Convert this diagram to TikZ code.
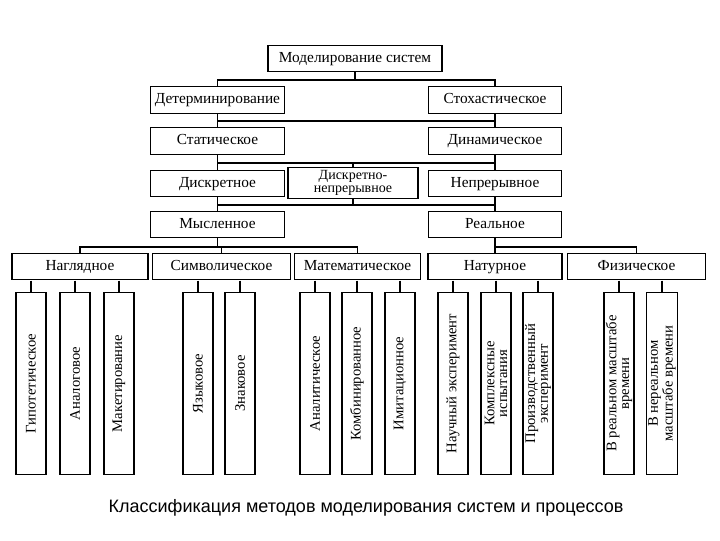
\documentclass[tikz,border=0pt]{standalone}
\usepackage{fontspec}
\setmainfont{Liberation Serif}
\newfontfamily\capfont{Liberation Sans}
\begin{document}
\begin{tikzpicture}[x=0.75pt,y=-0.75pt,
  box/.style={draw,line width=0.9pt,inner sep=1pt,font=\fontsize{11.5}{11}\selectfont,minimum height=20pt,text height=8pt,text depth=2.5pt},
  leaf/.style={draw,line width=0.9pt,rotate=90,minimum width=137pt,minimum height=22.5pt,inner sep=1pt,align=center,font=\fontsize{11}{9.5}\selectfont},
  ln/.style={line width=1pt}]
\useasboundingbox[fill=white] (0,0) rectangle (720,540);
\node[box,minimum width=130.5pt] (top) at (355,58.5) {Моделирование систем};
\node[box,minimum width=100pt] (det) at (217.5,100) {Детерминирование};
\node[box,minimum width=100pt] (sto) at (495,100) {Стохастическое};
\node[box,minimum width=100pt] (sta) at (217.5,141) {Статическое};
\node[box,minimum width=100pt] (dyn) at (495,141) {Динамическое};
\node[box,minimum width=100pt] (dis) at (217.5,183.5) {Дискретное};
\node[draw,line width=0.9pt,inner sep=0.5pt,minimum width=97.5pt,minimum height=23pt,align=center,font=\fontsize{10.5}{9.5}\selectfont] (dn) at (353,183) {Дискретно-\\непрерывное};
\node[box,minimum width=100pt] (nep) at (495,183.5) {Непрерывное};
\node[box,minimum width=100pt] (mys) at (217.5,224.5) {Мысленное};
\node[box,minimum width=100pt] (rea) at (495,224.5) {Реальное};
\node[box,minimum width=102pt] (nag) at (80,266.5) {Наглядное};
\node[box,minimum width=103pt] (sym) at (221.5,266.5) {Символическое};
\node[box,minimum width=94pt] (mat) at (357.5,266.5) {Математическое};
\node[box,minimum width=100.5pt] (nat) at (495,266.5) {Натурное};
\node[box,minimum width=103pt] (fiz) at (636.5,266.5) {Физическое};
% buses
\draw[ln] (top.south) -- (355,80);
\draw[ln] (det.north) -- (217.5,80) -- (495,80) -- (sto.north);
\draw[ln] (det.south) -- (217.5,121) -- (495,121) -- (dyn.north);
\draw[ln] (sta.north) -- (217.5,121);
\draw[ln] (sto.south) -- (495,121);
\draw[ln] (sta.south) -- (217.5,163) -- (495,163) -- (nep.north);
\draw[ln] (dyn.south) -- (495,163);
\draw[ln] (dis.north) -- (217.5,163);
\draw[ln] (dn.north) -- (353,163);
\draw[ln] (dis.south) -- (217.5,205) -- (495,205) -- (rea.north);
\draw[ln] (nep.south) -- (495,205);
\draw[ln] (mys.north) -- (217.5,205);
\draw[ln] (dn.south) -- (353,205);
\draw[ln] (mys.south) -- (217.5,247);
\draw[ln] (nag.north) -- (80,247) -- (357.5,247) -- (mat.north);
\draw[ln] (sym.north) -- (221.5,247);
\draw[ln] (rea.south) -- (495,247) -- (636.5,247) -- (fiz.north);
\draw[ln] (nat.north) -- (495,247);
% leaves
\foreach \n/\x/\t/\p in {
 l1/31/Гипотетическое/nag, l2/75/Аналоговое/nag, l3/119/Макетирование/nag,
 l4/198/Языковое/sym, l5/240/Знаковое/sym,
 l6/315/Аналитическое/mat, l7/357/Комбинированное/mat, l8/400/Имитационное/mat,
 l9/453/Научный эксперимент/nat, l10/496/{Комплексные\\испытания}/nat, l11/538/{Производственный\\эксперимент}/nat,
 l12/619/{В реальном масштабе\\времени}/fiz, l13/662/{В нереальном\\масштабе времени}/fiz}{
  \node[leaf] (\n) at (\x,383.5) {\t};
  \coordinate (c\n) at (\x,280.5);
  \draw[ln] (c\n) -- (\n.east);
}
\node[font=\capfont\fontsize{13.5}{13.5}\selectfont] (cap) at (366,508) {Классификация методов моделирования систем и процессов};
\end{tikzpicture}
\end{document}
